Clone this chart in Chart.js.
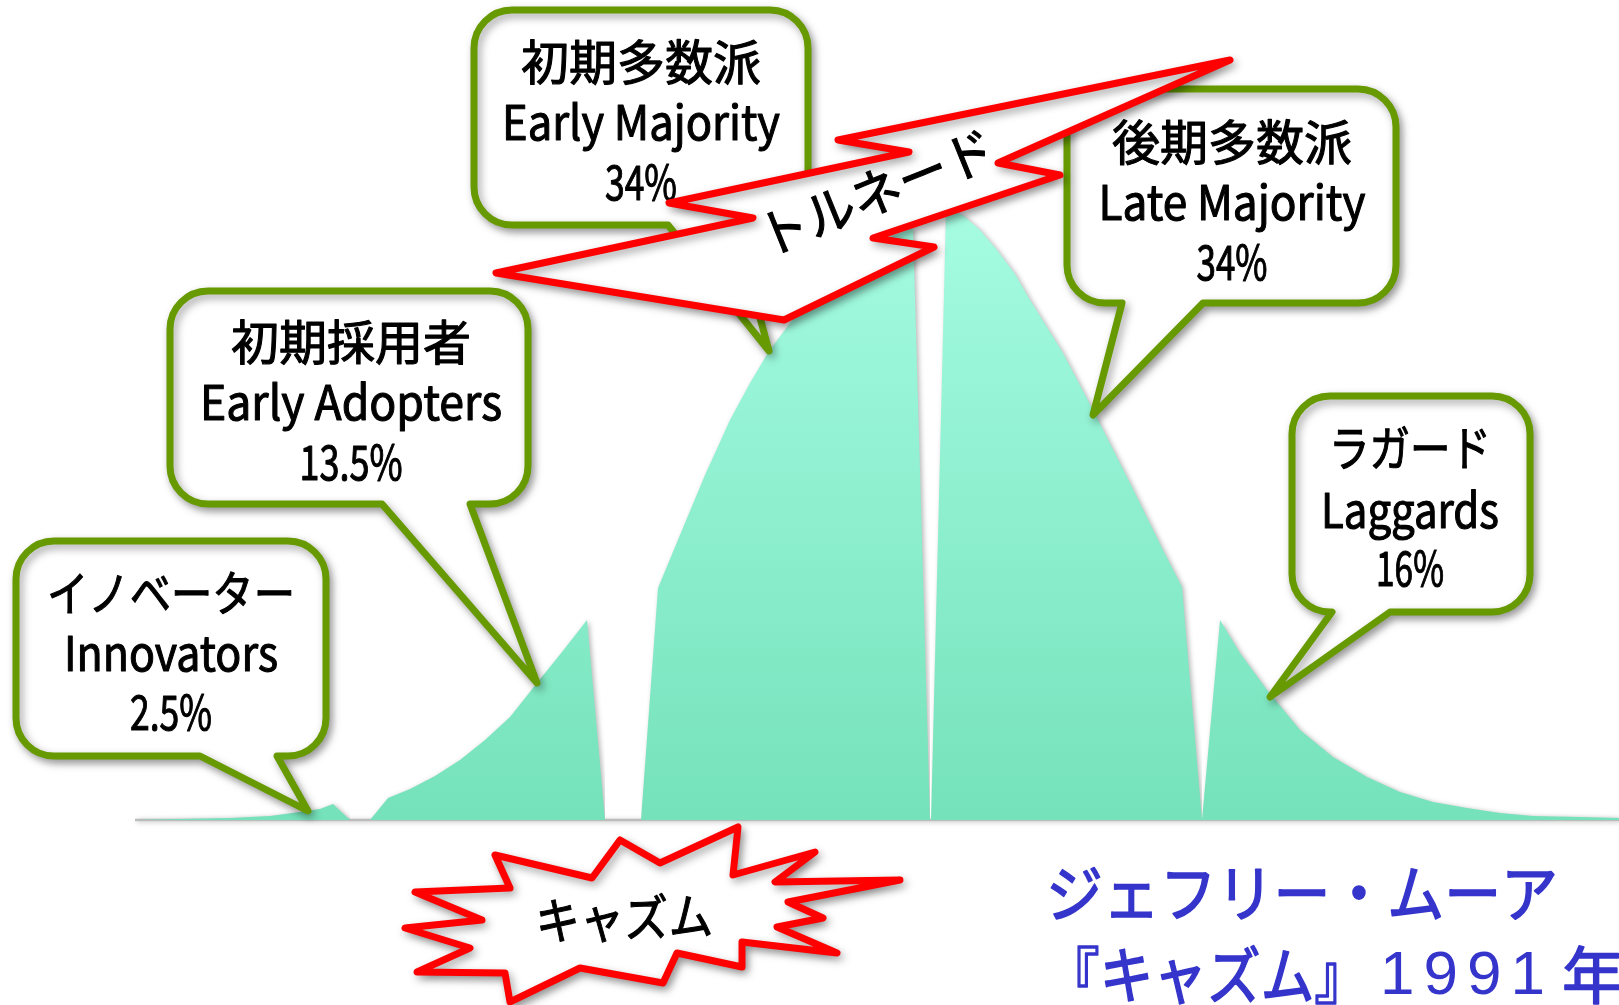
<!DOCTYPE html>
<html>
<head>
<meta charset="utf-8">
<title>キャズム</title>
<script src="https://cdn.jsdelivr.net/npm/chart.js@4.4.1/dist/chart.umd.min.js"></script>
<style>
  html, body { margin: 0; padding: 0; background: #fff; }
  canvas { display: block; }
</style>
</head>
<body>
<canvas id="chasm" width="1619" height="1005"></canvas>
<script>
// adoption curve, cut into the five groups: position along the axis / curve height
const innovatorsX = [135, 180, 230, 270, 300, 320, 333, 350];
const innovatorsY = [0, 1, 2, 4, 8, 11, 16, 0];
const earlyAdoptersX = [370, 388, 410, 435, 460, 485, 510, 537, 562, 587, 605];
const earlyAdoptersY = [0, 22, 31, 44, 60, 80, 103, 137, 168, 200, 0];
const earlyMajorityX = [641, 658, 680, 705, 730, 750, 769, 800, 830, 860, 890, 913, 930];
const earlyMajorityY = [0, 232, 285, 345, 400, 437, 469, 510, 543, 567, 583, 592, 0];
const lateMajorityX = [931, 946, 956, 965, 980, 997, 1015, 1030, 1063, 1093, 1130, 1163, 1182, 1202];
const lateMajorityY = [0, 607, 608, 603, 590, 570, 546, 520, 467, 410, 337, 270, 233, 0];
const laggardsX = [1202, 1220, 1240, 1267, 1300, 1333, 1367, 1400, 1433, 1467, 1500, 1533, 1580, 1619];
const laggardsY = [0, 200, 167, 130, 90, 63, 43, 28, 18, 12, 7, 4, 3, 2];

const groupNamesJa = ['イノベーター', '初期採用者', '初期多数派', '後期多数派', 'ラガード'];
const groupNamesEn = ['Innovators', 'Early Adopters', 'Early Majority', 'Late Majority', 'Laggards'];
const groupShares = [2.5, 13.5, 34, 34, 16];

// where each balloon's tail touches its group on the curve
const pointerX = [308, 537, 769, 1093, 1270];
const pointerY = [9, 137, 469, 405, 123];

const segments = [
  [innovatorsX, innovatorsY],
  [earlyAdoptersX, earlyAdoptersY],
  [earlyMajorityX, earlyMajorityY],
  [lateMajorityX, lateMajorityY],
  [laggardsX, laggardsY]
];

// balloon boxes (stroke centre), tail base on the bottom edge, text rows
const balloons = [
  { left: 16, top: 541, right: 326, bottom: 756, tail: [200, 277], cx: 171, rows: [593, 653, 712], widths: [248, 214, 82] },
  { left: 170, top: 291, right: 528, bottom: 504, tail: [382, 470], cx: 351, rows: [342, 402, 462], widths: [240, 302, 103] },
  { left: 474, top: 10, right: 808, bottom: 225, tail: [668, 735], cx: 641, rows: [62, 122, 182], widths: [240, 278, 72] },
  { left: 1067, top: 89, right: 1396, bottom: 303, tail: [1122, 1203], cx: 1232, rows: [142, 202, 262], widths: [241, 267, 71] },
  { left: 1292, top: 396, right: 1530, bottom: 612, tail: [1332, 1390], cx: 1410, rows: [448, 510, 568], widths: [162, 178, 68] }
];

const tornadoOutline = [
  [496, 273], [784, 320], [934, 247], [873, 238], [1060, 175], [998, 163], [1230, 60],
  [838, 140], [909, 152], [669, 203], [753, 218]
];

const chasmOutline = [
  [495, 855], [592, 878], [620, 840], [660, 863], [738, 827], [733, 875], [815, 852],
  [775, 882], [900, 880], [788, 902], [823, 918], [777, 927], [837, 953], [742, 942],
  [742, 967], [677, 953], [663, 983], [580, 968], [510, 1002], [505, 973], [417, 972],
  [470, 948], [405, 928], [482, 920], [415, 892], [510, 888]
];

const JP_FONT = '"Noto Sans CJK JP", "Noto Sans", sans-serif';
const GREEN = '#679a00';
const RED = '#ff0000';

function mintFill(context) {
  const chart = context.chart;
  const area = chart.chartArea;
  if (!area) return '#8eecd0';
  const g = chart.ctx.createLinearGradient(0, area.top, 0, area.bottom);
  g.addColorStop(0, '#a6fce2');
  g.addColorStop(1, '#75e2bb');
  return g;
}

function dropShadow(c, blur, dx, dy, alpha) {
  c.shadowColor = 'rgba(0,0,0,' + alpha + ')';
  c.shadowBlur = blur;
  c.shadowOffsetX = dx;
  c.shadowOffsetY = dy;
}

function noShadow(c) {
  c.shadowColor = 'rgba(0,0,0,0)';
  c.shadowBlur = 0;
  c.shadowOffsetX = 0;
  c.shadowOffsetY = 0;
}

// filled text with a thin outline of the same colour for a slightly heavier stroke
function textRow(c, text, x, y, size, maxW, weight) {
  c.font = size + 'px ' + JP_FONT;
  c.strokeStyle = c.fillStyle;
  c.lineWidth = weight || 1.1;
  if (maxW) {
    c.fillText(text, x, y, maxW);
    c.strokeText(text, x, y, maxW);
  } else {
    c.fillText(text, x, y);
    c.strokeText(text, x, y);
  }
}

function polygon(c, pts) {
  c.beginPath();
  c.moveTo(pts[0][0], pts[0][1]);
  for (let i = 1; i < pts.length; i++) c.lineTo(pts[i][0], pts[i][1]);
  c.closePath();
}

function balloonPath(c, b, tip, r) {
  const L = b.left, T = b.top, R = b.right, B = b.bottom;
  c.beginPath();
  c.moveTo(L + r, T);
  c.arcTo(R, T, R, B, r);
  c.arcTo(R, B, L, B, r);
  c.lineTo(b.tail[1], B);
  c.lineTo(tip.x, tip.y);
  c.lineTo(b.tail[0], B);
  c.arcTo(L, B, L, T, r);
  c.arcTo(L, T, R, T, r);
  c.closePath();
}

// soft shadow under the filled groups
const curveShadow = {
  id: 'curveShadow',
  beforeDatasetsDraw(chart) {
    chart.ctx.save();
    dropShadow(chart.ctx, 5, 2, 1, 0.28);
  },
  afterDatasetsDraw(chart) {
    chart.ctx.restore();
  }
};

// balloons, tornado, chasm burst and credit line
const overlay = {
  id: 'overlay',
  afterDraw(chart) {
    const c = chart.ctx;
    const sx = chart.scales.x, sy = chart.scales.y;
    c.save();
    c.lineJoin = 'round';
    c.lineCap = 'round';

    balloons.forEach((b, i) => {
      const tip = { x: sx.getPixelForValue(pointerX[i]), y: sy.getPixelForValue(pointerY[i]) };
      balloonPath(c, b, tip, 38);
      dropShadow(c, 8, 3, 4, 0.35);
      c.fillStyle = '#fff';
      c.fill();
      c.lineWidth = 7;
      c.strokeStyle = GREEN;
      c.stroke();
      noShadow(c);
      c.fillStyle = '#000';
      c.textAlign = 'center';
      c.textBaseline = 'middle';
      textRow(c, groupNamesJa[i], b.cx, b.rows[0], 48, b.widths[0]);
      textRow(c, groupNamesEn[i], b.cx, b.rows[1], 48, b.widths[1]);
      textRow(c, groupShares[i] + '%', b.cx, b.rows[2], 48, b.widths[2]);
    });

    // tornado bolt
    polygon(c, tornadoOutline);
    dropShadow(c, 8, 3, 4, 0.35);
    c.fillStyle = '#fff';
    c.fill();
    c.lineWidth = 7;
    c.strokeStyle = RED;
    c.stroke();
    noShadow(c);
    c.save();
    c.translate(876, 192);
    c.rotate(-22 * Math.PI / 180);
    c.fillStyle = '#000';
    c.textAlign = 'center';
    c.textBaseline = 'middle';
    textRow(c, 'トルネード', 0, 0, 52, 250);
    c.restore();

    // chasm burst
    polygon(c, chasmOutline);
    dropShadow(c, 8, 3, 4, 0.35);
    c.fillStyle = '#fff';
    c.fill();
    c.lineWidth = 7;
    c.strokeStyle = RED;
    c.stroke();
    noShadow(c);
    c.save();
    c.translate(624, 918);
    c.rotate(-2 * Math.PI / 180);
    c.fillStyle = '#000';
    c.textAlign = 'center';
    c.textBaseline = 'middle';
    textRow(c, 'キャズム', 0, 0, 50, 177);
    c.restore();

    // credit
    c.fillStyle = '#3535cc';
    c.textAlign = 'left';
    c.textBaseline = 'middle';
    textRow(c, 'ジェフリー・ムーア', 1046, 893, 62, 512, 1.6);
    textRow(c, '『キャズム』', 1046, 975, 62, 322, 1.6);
    c.font = '62px "Liberation Sans", Arial, sans-serif';
    c.letterSpacing = '9px';
    c.fillText('1991', 1380, 977);
    c.letterSpacing = '0px';
    textRow(c, '年', 1562, 975, 62, 0, 1.6);
    c.restore();
  }
};

const datasets = segments.map(([xs, ys], i) => ({
  label: groupNamesEn[i],
  data: xs.map((x, j) => ({ x: x, y: ys[j] })),
  fill: 'origin',
  backgroundColor: mintFill,
  borderColor: 'rgba(0,0,0,0)',
  borderWidth: 0,
  pointRadius: 0,
  tension: 0
}));

datasets.push({
  label: 'baseline',
  data: [{ x: 135, y: 0 }, { x: 1619, y: 0 }],
  fill: false,
  borderColor: '#bcbcbc',
  borderWidth: 2.5,
  pointRadius: 0,
  clip: false
});

new Chart(document.getElementById('chasm'), {
  type: 'line',
  data: { datasets: datasets },
  options: {
    responsive: false,
    animation: false,
    devicePixelRatio: 1,
    layout: { padding: { top: 200, bottom: 185, left: 0, right: 0 } },
    scales: {
      x: { type: 'linear', min: 0, max: 1619, display: false },
      y: { type: 'linear', min: 0, max: 620, display: false }
    },
    plugins: {
      legend: { display: false },
      tooltip: { enabled: false }
    }
  },
  plugins: [curveShadow, overlay]
});
</script>
</body>
</html>
